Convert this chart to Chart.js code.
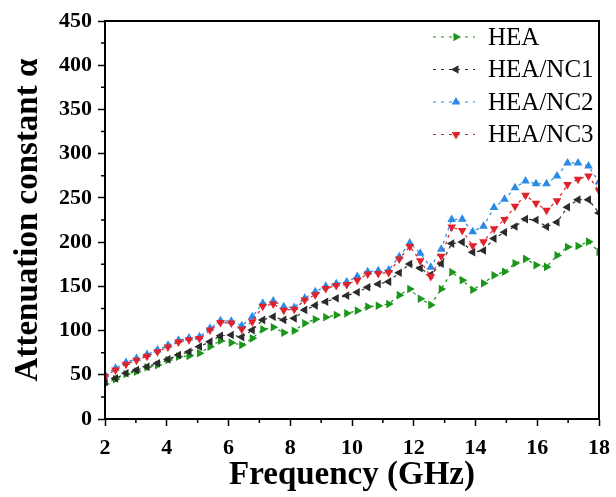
<!DOCTYPE html>
<html>
<head>
<meta charset="utf-8">
<script src="https://cdn.jsdelivr.net/npm/chart.js@4/dist/chart.umd.min.js"></script>
<style>
html, body { margin: 0; padding: 0; background: #fff; }
</style>
</head>
<body>
<canvas id="attChart" width="616" height="497"></canvas>
<script>
// frequency points (GHz)
var freq = [2.00, 2.34, 2.68, 3.02, 3.36, 3.70, 4.04, 4.38, 4.72, 5.06, 5.40, 5.74,
            6.09, 6.43, 6.77, 7.11, 7.45, 7.79, 8.13, 8.47, 8.81, 9.15, 9.49, 9.83,
            10.17, 10.51, 10.85, 11.19, 11.53, 11.87, 12.21, 12.55, 12.89, 13.23, 13.57, 13.91,
            14.26, 14.60, 14.94, 15.28, 15.62, 15.96, 16.30, 16.64, 16.98, 17.32, 17.66, 18.00];

var hea = [39.6, 45, 50.9, 53.5, 58.5, 61, 66.7, 70.5, 71.2, 74.3, 81.8, 88.5,
           86.3, 83.7, 91.2, 101.4, 103.7, 97.6, 99.8, 108.2, 112.7, 115, 117.6, 119.5,
           122.5, 127, 128, 130, 140, 147, 136, 129, 147, 166, 157, 146,
           153.4, 162.4, 166.5, 176, 181, 174, 172, 185, 194.5, 195.6, 200.5, 189];

var heaNc1 = [42, 46, 51.7, 55.4, 59, 63, 67.5, 72.4, 76, 81.8, 87.4, 94,
              95, 92.6, 100.5, 112, 115.7, 112, 113.8, 123.3, 128.4, 132.6, 136.5, 139.5,
              143.3, 149, 152.6, 155.3, 165.4, 175.3, 170.4, 163, 175.5, 198.3, 200, 188.5,
              190.5, 204, 211.2, 217.7, 226, 225, 217.4, 222.5, 239.5, 248, 248, 233];

var heaNc2 = [50, 57.5, 64, 68.5, 73, 78, 83.5, 89, 91.5, 93, 102.5, 111,
              110.5, 105.5, 115.5, 131, 133.5, 127, 126, 136.5, 144, 150, 153, 155,
              161, 166.5, 167.7, 168.5, 183.5, 199, 187.4, 171.5, 192, 225.5, 225.8, 211.8,
              218, 239, 248.4, 261.5, 269, 266, 266, 274.8, 289.5, 289.5, 286, 268];

var heaNc3 = [48, 55.5, 62, 66.5, 71, 76, 81.5, 87, 89.5, 91, 100.5, 109,
              108.5, 101.5, 110, 127.5, 130, 123, 124, 134.5, 140.5, 147.5, 151, 152,
              157, 164, 164.5, 165.5, 181, 195, 179, 161, 184, 217, 213, 196,
              200.5, 215, 225.5, 240.5, 253, 244, 236, 246.8, 265, 271, 274.8, 258];

var seriesNames = ['HEA', 'HEA/NC1', 'HEA/NC2', 'HEA/NC3'];
var xTicks = [2, 4, 6, 8, 10, 12, 14, 16, 18];
var yTicks = [0, 50, 100, 150, 200, 250, 300, 350, 400, 450];

var serif = "'Liberation Serif', 'Times New Roman', serif";

function toPoints(vals) {
    return freq.map(function (f, i) { return { x: f, y: vals[i] }; });
}

var styles = [
    { color: '#1a961a', rot: 90, order: 2 },
    { color: '#2b2b2b', rot: -90, order: 1 },
    { color: '#2a8ae4', rot: 0, order: 3 },
    { color: '#e2222a', rot: 180, order: 0 }
];
var allSeries = [hea, heaNc1, heaNc2, heaNc3];

var datasets = allSeries.map(function (vals, i) {
    var s = styles[i];
    return {
        label: seriesNames[i],
        data: toPoints(vals),
        borderColor: s.color,
        backgroundColor: s.color,
        borderWidth: 1.2,
        borderDash: [3, 4],
        pointStyle: 'triangle',
        pointRotation: s.rot,
        pointRadius: 5,
        pointBorderWidth: 0,
        tension: 0,
        order: s.order
    };
});

// frame + minor ticks
var framePlugin = {
    id: 'framePlugin',
    afterDraw: function (chart) {
        var ctx = chart.ctx, a = chart.chartArea;
        var xs = chart.scales.x, ys = chart.scales.y;
        ctx.save();
        ctx.strokeStyle = '#000';
        ctx.lineWidth = 2;
        ctx.strokeRect(a.left, a.top, a.right - a.left, a.bottom - a.top);
        ctx.lineWidth = 1.5;
        ctx.beginPath();
        for (var i = 0; i < xTicks.length - 1; i++) {
            var px = xs.getPixelForValue((xTicks[i] + xTicks[i + 1]) / 2);
            ctx.moveTo(px, a.bottom);
            ctx.lineTo(px, a.bottom + 4);
        }
        for (var j = 0; j < yTicks.length - 1; j++) {
            var py = ys.getPixelForValue((yTicks[j] + yTicks[j + 1]) / 2);
            ctx.moveTo(a.left, py);
            ctx.lineTo(a.left - 4, py);
        }
        ctx.stroke();
        ctx.restore();
    }
};

// legend drawn inside the plot, top right
var legendPlugin = {
    id: 'innerLegend',
    afterDraw: function (chart) {
        var ctx = chart.ctx, a = chart.chartArea;
        var x0 = a.right - 166, y0 = a.top + 16, rowH = 32.5;
        ctx.save();
        ctx.font = '25px ' + serif;
        ctx.textBaseline = 'middle';
        chart.data.datasets.forEach(function (ds, i) {
            var y = y0 + i * rowH;
            ctx.strokeStyle = ds.borderColor;
            ctx.lineWidth = 1.2;
            ctx.setLineDash([3, 5]);
            ctx.beginPath();
            ctx.moveTo(x0, y);
            ctx.lineTo(x0 + 42, y);
            ctx.stroke();
            ctx.setLineDash([]);
            var cx = x0 + 23, r = 5;
            ctx.save();
            ctx.translate(cx, y);
            ctx.rotate(ds.pointRotation * Math.PI / 180);
            ctx.fillStyle = ds.backgroundColor;
            ctx.beginPath();
            ctx.moveTo(0, -r);
            ctx.lineTo(r * 0.866, r * 0.5);
            ctx.lineTo(-r * 0.866, r * 0.5);
            ctx.closePath();
            ctx.fill();
            ctx.restore();
            ctx.fillStyle = '#000';
            ctx.fillText(ds.label, x0 + 55, y + 1);
        });
        ctx.restore();
    }
};

var chartCanvas = document.getElementById('attChart');
var attChart = new Chart(chartCanvas, {
    type: 'line',
    data: { datasets: datasets },
    plugins: [framePlugin, legendPlugin],
    options: {
        responsive: false,
        animation: false,
        layout: { padding: { top: 21, right: 17, left: 0, bottom: 0 } },
        plugins: {
            legend: { display: false },
            tooltip: { enabled: false }
        },
        scales: {
            x: {
                type: 'linear',
                min: 2,
                max: 18,
                afterBuildTicks: function (scale) {
                    scale.ticks = xTicks.map(function (v) { return { value: v }; });
                },
                afterFit: function (scale) {
                    scale.height = 78;
                    scale.paddingLeft = 0;
                    scale.paddingRight = 0;
                },
                ticks: {
                    color: '#000',
                    padding: 9,
                    maxRotation: 0,
                    font: { family: serif, size: 22, weight: 'bold' }
                },
                grid: {
                    display: true,
                    drawOnChartArea: false,
                    drawTicks: true,
                    tickLength: 7,
                    tickWidth: 1.5,
                    tickColor: '#000'
                },
                border: { color: '#000', width: 2 },
                title: {
                    display: true,
                    text: 'Frequency (GHz)',
                    color: '#000',
                    padding: { top: 0, bottom: 2 },
                    font: { family: serif, size: 33, weight: 'bold' }
                }
            },
            y: {
                min: 0,
                max: 450,
                afterBuildTicks: function (scale) {
                    scale.ticks = yTicks.map(function (v) { return { value: v }; });
                },
                afterFit: function (scale) {
                    scale.width = 105;
                    scale.paddingTop = 0;
                    scale.paddingBottom = 0;
                },
                ticks: {
                    color: '#000',
                    padding: 6,
                    font: { family: serif, size: 22, weight: 'bold' }
                },
                grid: {
                    display: true,
                    drawOnChartArea: false,
                    drawTicks: true,
                    tickLength: 7,
                    tickWidth: 1.5,
                    tickColor: '#000'
                },
                border: { color: '#000', width: 2 },
                title: {
                    display: true,
                    text: 'Attenuation constant \u03b1',
                    color: '#000',
                    padding: { top: 9, bottom: 0 },
                    font: { family: serif, size: 33, weight: 'bold' }
                }
            }
        }
    }
});
</script>
</body>
</html>
